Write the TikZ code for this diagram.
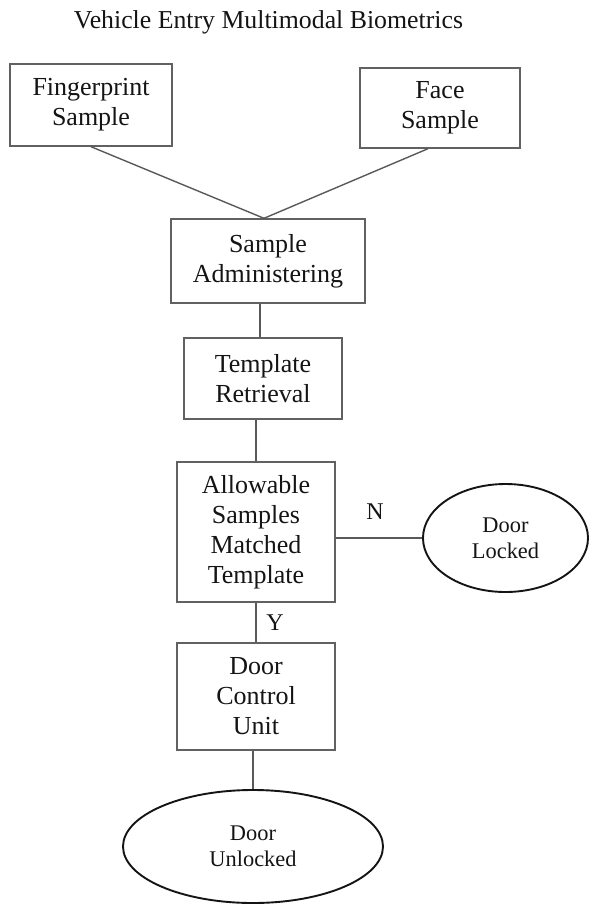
\documentclass[tikz,border=0pt]{standalone}
\usepackage{fontspec}
\setmainfont{Liberation Serif}
\usetikzlibrary{shapes.geometric}
\begin{document}
\begin{tikzpicture}[x=0.5pt,y=-0.5pt,
  every node/.style={text=black!92, inner sep=0pt, align=center},
  procbox/.style={draw=black!62, line width=0.7pt, rectangle,
    font=\fontsize{13}{15}\selectfont},
  endstate/.style={draw=black!92, line width=0.95pt, ellipse,
    font=\fontsize{11.2}{13}\selectfont},
  link/.style={draw=black!65, line width=0.7pt},
  branch/.style={font=\fontsize{12}{14}\selectfont}]
\useasboundingbox (0,0) rectangle (589,906);

% heading
\node[font=\fontsize{12.9}{15}\selectfont, anchor=base] (title) at (268.5,28)
  {Vehicle Entry Multimodal Biometrics};

% sample inputs
\node[procbox, minimum width=81pt, minimum height=41pt] (fp) at (91,105)
  {Fingerprint\\Sample};
\node[procbox, minimum width=80pt, minimum height=40pt] (face) at (440,108)
  {Face\\Sample};

% processing chain
\node[procbox, minimum width=97pt, minimum height=42pt] (sa) at (268,261)
  {Sample\\Administering};
\node[procbox, minimum width=79pt, minimum height=40.5pt] (tr) at (263,378.5)
  {Template\\Retrieval};
\node[procbox, minimum width=79pt, minimum height=70pt] (am) at (256,532)
  {Allowable\\Samples\\Matched\\Template};
\node[procbox, minimum width=79pt, minimum height=53.5pt] (dcu) at (256,696.5)
  {Door\\Control\\Unit};

% outcomes
\node[endstate, minimum width=82.5pt, minimum height=54pt] (dl) at (505.5,538)
  {Door\\Locked};
\node[endstate, minimum width=130pt, minimum height=56.5pt] (du) at (253,846.5)
  {Door\\Unlocked};

% connectors
\coordinate (merge) at ([xshift=-2pt]sa.north);
\draw[link] (fp.south) -- (merge);
\draw[link] ([xshift=-6pt]face.south) -- (merge);
\draw[link] ([xshift=-1.5pt]tr.north) -- ([xshift=-1.5pt]tr.north |- sa.south);
\draw[link] (am.north) -- (am.north |- tr.south);
\draw[link] (dl.west) -- (dl.west -| am.east);
\draw[link] (am.south) -- (dcu.north);
\draw[link] ([xshift=-1.5pt]dcu.south) -- ([xshift=-1.5pt]dcu.south |- du.north);

% branch labels
\node[branch] (nlab) at (375,512) {N};
\node[branch] (ylab) at (275,623) {Y};
\end{tikzpicture}
\end{document}
